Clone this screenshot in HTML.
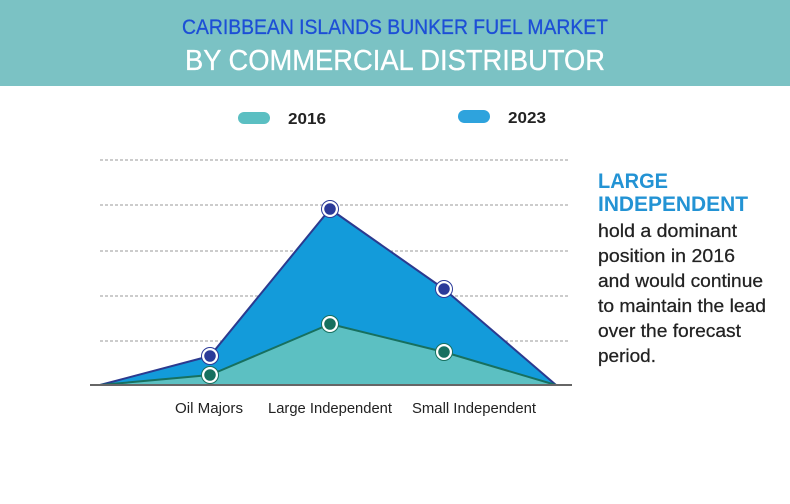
<!DOCTYPE html>
<html><head><meta charset="utf-8"><style>
html,body{margin:0;padding:0;background:#fff;}
svg{display:block;font-family:"Liberation Sans",sans-serif;}
</style></head><body>
<svg width="790" height="504" viewBox="0 0 790 504" xmlns="http://www.w3.org/2000/svg">
<rect x="0" y="0" width="790" height="86" fill="#7bc2c4"/>
<text x="395" y="34" text-anchor="middle" font-size="21" fill="#1d4fd6" stroke="#1d4fd6" stroke-width="0.3" textLength="426" lengthAdjust="spacingAndGlyphs">CARIBBEAN ISLANDS BUNKER FUEL MARKET</text>
<text x="395" y="70" text-anchor="middle" font-size="29" fill="#fff" stroke="#fff" stroke-width="0.3" textLength="420" lengthAdjust="spacingAndGlyphs">BY COMMERCIAL DISTRIBUTOR</text>
<rect x="238" y="112" width="32" height="12" rx="6" fill="#5bbfc2"/>
<text x="288" y="124" font-size="16" font-weight="bold" fill="#222" textLength="38" lengthAdjust="spacingAndGlyphs">2016</text>
<rect x="458" y="110" width="32" height="13" rx="6.5" fill="#2ea3dd"/>
<text x="508" y="123" font-size="16" font-weight="bold" fill="#222" textLength="38" lengthAdjust="spacingAndGlyphs">2023</text>
<g stroke="#999" stroke-width="1" stroke-dasharray="3,2">
<line x1="100" y1="160" x2="568" y2="160"/>
<line x1="100" y1="205" x2="568" y2="205"/>
<line x1="100" y1="251" x2="568" y2="251"/>
<line x1="100" y1="296" x2="568" y2="296"/>
<line x1="100" y1="341" x2="568" y2="341"/>
</g>
<polygon points="100,385 210,356 330,209 444,289 556,385" fill="#139bda" stroke="#2b3a8f" stroke-width="2" stroke-linejoin="round"/>
<polygon points="100,385 210,375 330,324 444,352 556,385" fill="#5cc0c2" stroke="#17705f" stroke-width="2" stroke-linejoin="round"/>
<line x1="90" y1="385" x2="572" y2="385" stroke="#666" stroke-width="2"/>
<g stroke="#fff" stroke-width="2.5">
<circle cx="210" cy="356" r="7" fill="#2b3a99"/>
<circle cx="330" cy="209" r="7" fill="#2b3a99"/>
<circle cx="444" cy="289" r="7" fill="#2b3a99"/>
<circle cx="210" cy="375" r="7" fill="#17705f"/>
<circle cx="330" cy="324" r="7" fill="#17705f"/>
<circle cx="444" cy="352" r="7" fill="#17705f"/>
</g>
<g stroke="#2b3a99" stroke-width="1" fill="none"><circle cx="210" cy="356" r="8.5"/><circle cx="330" cy="209" r="8.5"/><circle cx="444" cy="289" r="8.5"/></g>
<g stroke="#17705f" stroke-width="1" fill="none"><circle cx="210" cy="375" r="8.5"/><circle cx="330" cy="324" r="8.5"/><circle cx="444" cy="352" r="8.5"/></g>
<g font-size="15" fill="#222" text-anchor="middle">
<text x="209" y="413" textLength="68" lengthAdjust="spacingAndGlyphs">Oil Majors</text>
<text x="330" y="413" textLength="124" lengthAdjust="spacingAndGlyphs">Large Independent</text>
<text x="474" y="413" textLength="124" lengthAdjust="spacingAndGlyphs">Small Independent</text>
</g>
<g font-size="21" font-weight="bold" fill="#2393d4">
<text x="598" y="188" textLength="70" lengthAdjust="spacingAndGlyphs">LARGE</text>
<text x="598" y="211" textLength="150" lengthAdjust="spacingAndGlyphs">INDEPENDENT</text>
</g>
<g font-size="18.5" fill="#222" stroke="#222" stroke-width="0.25">
<text x="598" y="237" textLength="139" lengthAdjust="spacingAndGlyphs">hold a dominant</text>
<text x="598" y="262" textLength="137" lengthAdjust="spacingAndGlyphs">position in 2016</text>
<text x="598" y="287" textLength="165" lengthAdjust="spacingAndGlyphs">and would continue</text>
<text x="598" y="312" textLength="168" lengthAdjust="spacingAndGlyphs">to maintain the lead</text>
<text x="598" y="337" textLength="143" lengthAdjust="spacingAndGlyphs">over the forecast</text>
<text x="598" y="362" textLength="58" lengthAdjust="spacingAndGlyphs">period.</text>
</g>
</svg>
</body></html>
